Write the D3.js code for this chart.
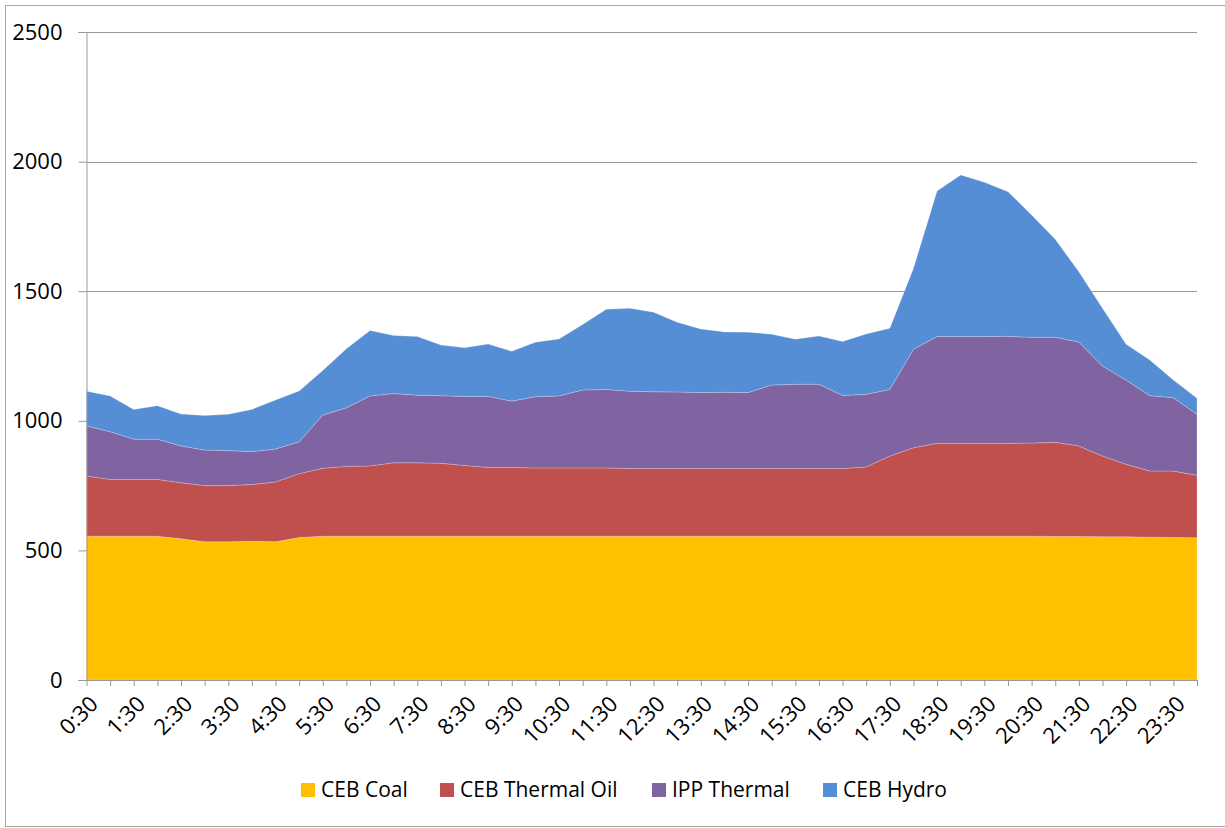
<!DOCTYPE html>
<html>
<head>
<meta charset="utf-8">
<script src="https://cdn.jsdelivr.net/npm/d3@7"></script>
<style>
  body { margin: 0; background: #fff; }
  svg { display: block; font-family: "Open Sans", "Liberation Sans", sans-serif; }
</style>
</head>
<body>
<div id="chart"></div>
<script>
// half-hour slots, 0:30 .. 24:00
var times = ["0:30","1:00","1:30","2:00","2:30","3:00","3:30","4:00","4:30","5:00","5:30","6:00",
  "6:30","7:00","7:30","8:00","8:30","9:00","9:30","10:00","10:30","11:00","11:30","12:00",
  "12:30","13:00","13:30","14:00","14:30","15:00","15:30","16:00","16:30","17:00","17:30","18:00",
  "18:30","19:00","19:30","20:00","20:30","21:00","21:30","22:00","22:30","23:00","23:30","24:00"];

var cebCoal = [555,555,555,555,545,533,533,535,533,550,555,555,555,555,555,555,555,555,555,555,555,555,555,555,
  555,555,555,555,555,555,555,555,555,555,555,555,555,555,555,555,555,554,554,553,553,551,550,549];
var cebThermalOil = [232,219,219,219,216,217,217,219,231,246,262,269,271,283,283,281,273,265,265,263,263,263,263,261,
  261,261,261,261,261,261,261,261,261,267,309,341,358,358,358,358,359,363,349,311,279,255,256,241];
var ippThermal = [193,184,155,155,142,137,135,127,127,123,205,226,270,267,261,261,266,274,256,275,278,301,303,298,
  296,295,293,294,293,322,325,325,282,280,257,380,412,412,412,413,408,405,401,347,325,291,283,235];
var cebHydro = [134,138,115,129,123,133,140,163,189,196,172,228,252,224,226,195,188,202,192,210,220,253,309,320,
  307,269,245,233,233,196,174,186,208,233,236,312,562,623,595,558,472,378,271,223,138,138,68,62];

var seriesNames = ["CEB Coal", "CEB Thermal Oil", "IPP Thermal", "CEB Hydro"];
var colors = ["#FFC000", "#C0504D", "#8064A2", "#558ED5"];
var yTicks = [0, 500, 1000, 1500, 2000, 2500];

var width = 1225, height = 828;
var margin = {top: 32, right: 28, bottom: 148, left: 86.5};

var rows = times.map(function (t, i) {
    return {time: t, "CEB Coal": cebCoal[i], "CEB Thermal Oil": cebThermalOil[i],
        "IPP Thermal": ippThermal[i], "CEB Hydro": cebHydro[i]};
});

var stacked = d3.stack().keys(seriesNames)(rows);

var svg = d3.select("#chart").append("svg")
    .attr("width", width)
    .attr("height", height);

// outer chart frame
svg.append("rect")
    .attr("x", 5.5).attr("y", 5.5)
    .attr("width", width + 10).attr("height", 821)
    .attr("fill", "none")
    .attr("stroke", "#a6a6a6")
    .attr("stroke-width", 1);

var x = d3.scalePoint()
    .domain(times)
    .range([margin.left, width - margin.right]);

var y = d3.scaleLinear()
    .domain([0, 2500])
    .range([height - margin.bottom, margin.top]);

// gridlines
svg.append("g")
    .selectAll("line")
    .data(yTicks.slice(1))
    .enter().append("line")
    .attr("x1", margin.left).attr("x2", width - margin.right)
    .attr("y1", function (d) { return Math.round(y(d)) + 0.5; })
    .attr("y2", function (d) { return Math.round(y(d)) + 0.5; })
    .attr("stroke", "#999")
    .attr("stroke-width", 1);

// stacked areas
var area = d3.area()
    .x(function (d) { return x(d.data.time); })
    .y0(function (d) { return y(d[0]); })
    .y1(function (d) { return y(d[1]); });

svg.append("g")
    .selectAll("path")
    .data(stacked)
    .enter().append("path")
    .attr("d", area)
    .attr("fill", function (d, i) { return colors[i]; })
    .attr("stroke", "rgba(255,255,255,0.35)")
    .attr("stroke-width", 0.6);

// y axis
var yAxis = svg.append("g")
    .attr("transform", "translate(" + margin.left + ",0)")
    .call(d3.axisLeft(y).tickValues(yTicks).tickSize(8).tickPadding(16).tickFormat(d3.format("d")));
yAxis.selectAll("line, path").attr("stroke", "#999");
yAxis.selectAll("text")
    .attr("font-size", 22)
    .attr("font-family", "Open Sans, sans-serif")
    .attr("fill", "#000");

// x axis, every slot gets a tick, every other gets a label
var xAxis = svg.append("g")
    .attr("transform", "translate(0," + (height - margin.bottom) + ")")
    .call(d3.axisBottom(x).tickSize(6).tickSizeOuter(0).tickFormat(function (d, i) {
        return i % 2 === 0 ? d : "";
    }));
xAxis.selectAll("line, path").attr("stroke", "#999");
xAxis.selectAll("text")
    .attr("font-size", 22)
    .attr("font-family", "Open Sans, sans-serif")
    .attr("fill", "#000")
    .attr("text-anchor", "end")
    .attr("x", 0).attr("y", 0)
    .attr("dy", "0.35em")
    .attr("transform", "translate(7,20) rotate(-45)");

// legend
var legendX = [301, 440, 652, 823];
var legend = svg.append("g")
    .selectAll("g")
    .data(seriesNames)
    .enter().append("g")
    .attr("transform", function (d, i) { return "translate(" + legendX[i] + ",783)"; });
legend.append("rect")
    .attr("width", 14).attr("height", 14)
    .attr("fill", function (d, i) { return colors[i]; });
legend.append("text")
    .attr("x", 20).attr("y", 7)
    .attr("dy", "0.35em")
    .attr("font-size", 21)
    .attr("fill", "#000")
    .text(function (d) { return d; });
</script>
</body>
</html>
